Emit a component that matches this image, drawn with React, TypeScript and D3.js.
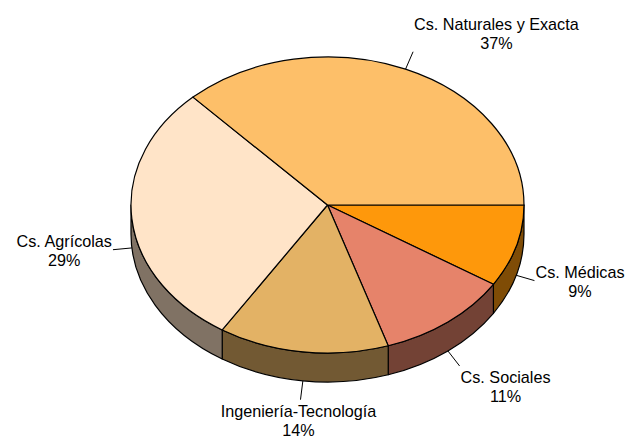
import React, { useEffect, useRef } from "react";
import * as d3 from "d3";

const categories = [
  "Cs. Médicas",
  "Cs. Sociales",
  "Ingeniería-Tecnología",
  "Cs. Agrícolas",
  "Cs. Naturales y Exacta",
];
const values = [9, 11, 14, 29, 37];
const topColors = ["#FE980B", "#E6836A", "#E3B265", "#FFE4C8", "#FDBF69"];

const W = 628;
const H = 436;
const CX = 327.5;
const CY = 205;
const RX = 196.5;
const RY = 148;
const DEPTH = 29;
const FONT = 16.2;
const LINE_H = 19;
const LEADER = 19;

export default function App() {
  const ref = useRef<SVGSVGElement | null>(null);

  useEffect(() => {
    document.body.style.margin = "0";
    const svg = d3.select(ref.current);
    svg.selectAll("*").remove();

    const data = categories.map((c, i) => ({ name: c, value: values[i], color: topColors[i] }));
    const pie = d3
      .pie<any>()
      .sort(null)
      .value((d: any) => d.value)
      .startAngle(0)
      .endAngle(2 * Math.PI);
    const arcs = pie(data);

    const pt = (t: number, dy = 0): [number, number] => [CX + RX * Math.cos(t), CY + RY * Math.sin(t) + dy];
    const f = (p: [number, number]) => `${p[0].toFixed(2)},${p[1].toFixed(2)}`;

    // sides
    const gSide = svg.append("g");
    arcs.forEach((a: any) => {
      const s = Math.max(a.startAngle, 0);
      const e = Math.min(a.endAngle, Math.PI);
      if (e <= s) return;
      const large = e - s > Math.PI ? 1 : 0;
      const d =
        `M${f(pt(s))} A${RX},${RY} 0 ${large} 1 ${f(pt(e))} ` +
        `L${f(pt(e, DEPTH))} A${RX},${RY} 0 ${large} 0 ${f(pt(s, DEPTH))} Z`;
      const c = d3.rgb(a.data.color);
      const dark = d3.rgb(c.r * 0.5, c.g * 0.5, c.b * 0.5);
      gSide
        .append("path")
        .attr("d", d)
        .attr("fill", dark.toString())
        .attr("stroke", "#000")
        .attr("stroke-width", 1.2)
        .attr("stroke-linejoin", "round");
    });

    // tops
    const gTop = svg.append("g");
    arcs.forEach((a: any) => {
      const large = a.endAngle - a.startAngle > Math.PI ? 1 : 0;
      const d = `M${CX},${CY} L${f(pt(a.startAngle))} A${RX},${RY} 0 ${large} 1 ${f(pt(a.endAngle))} Z`;
      gTop
        .append("path")
        .attr("d", d)
        .attr("fill", a.data.color)
        .attr("stroke", "#000")
        .attr("stroke-width", 1.2)
        .attr("stroke-linejoin", "round");
    });

    // labels
    const gLab = svg.append("g");
    arcs.forEach((a: any) => {
      const m = (a.startAngle + a.endAngle) / 2;
      const lower = Math.sin(m) > 0;
      const start = pt(m, lower ? DEPTH : 0);
      const end: [number, number] = [start[0] + LEADER * Math.cos(m), start[1] + LEADER * Math.sin(m)];
      gLab
        .append("line")
        .attr("x1", start[0])
        .attr("y1", start[1])
        .attr("x2", end[0])
        .attr("y2", end[1])
        .attr("stroke", "#000")
        .attr("stroke-width", 1);

      const txt = gLab
        .append("text")
        .attr("font-family", "'Liberation Sans', Arial, sans-serif")
        .attr("font-size", FONT)
        .attr("fill", "#000")
        .attr("text-anchor", "middle");
      const t1 = txt.append("tspan").text(a.data.name);
      const t2 = txt.append("tspan").text(`${a.data.value}%`);
      const w = Math.max(
        (t1.node() as SVGTSpanElement).getComputedTextLength(),
        (t2.node() as SVGTSpanElement).getComputedTextLength()
      );
      const c = Math.cos(m);
      const s = Math.sin(m);
      let x: number;
      if (c > 0.3) x = end[0] + 1 + w / 2;
      else if (c < -0.3) x = end[0] - 1 - w / 2;
      else x = end[0] - 2;
      let b1: number;
      if (s < -0.5) b1 = end[1] - 3 - LINE_H;
      else if (s > 0.5) b1 = end[1] + 17;
      else b1 = end[1] - 4 + 1;
      t1.attr("x", x).attr("y", b1);
      t2.attr("x", x).attr("y", b1 + LINE_H);
    });
  }, []);

  return <svg ref={ref} width={W} height={H} style={{ display: "block", background: "#fff" }} />;
}
